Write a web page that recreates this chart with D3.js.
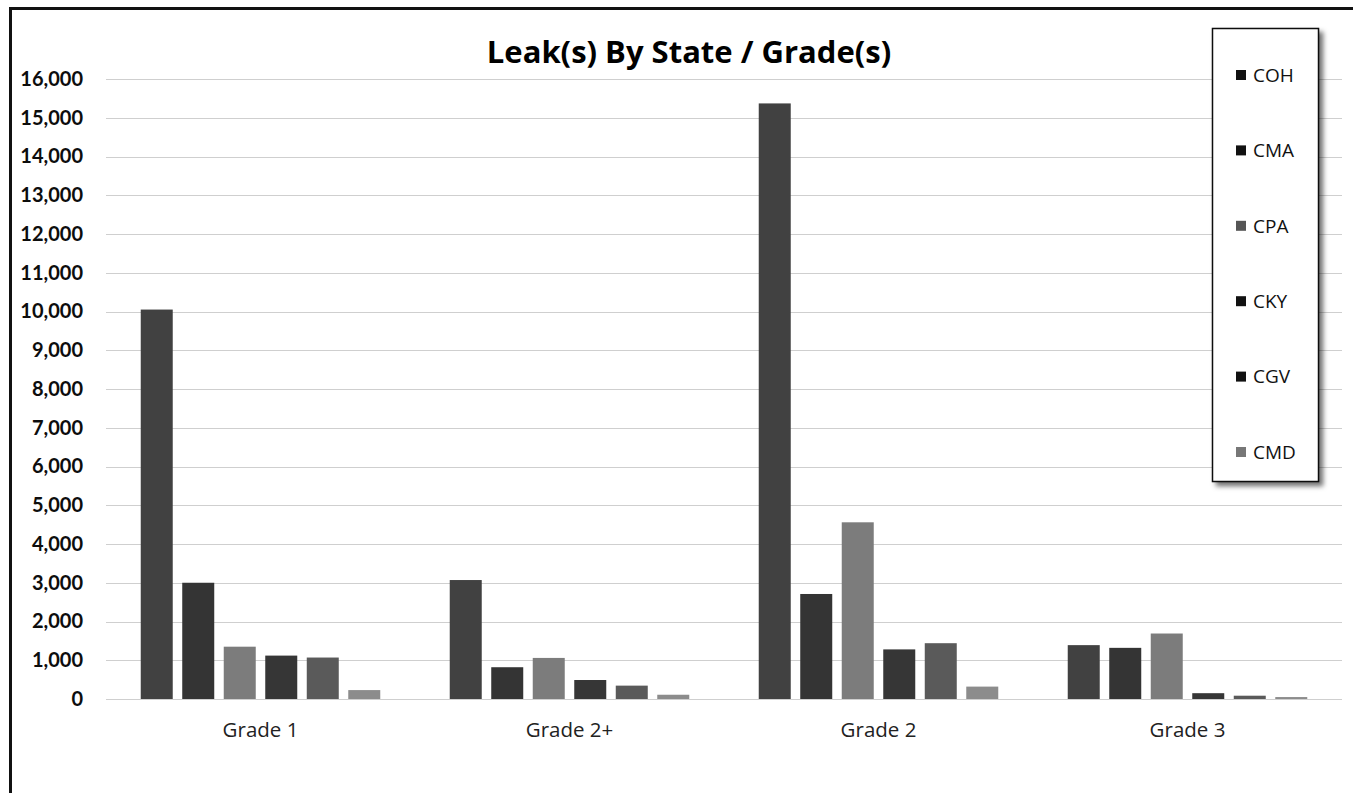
<!DOCTYPE html>
<html>
<head>
<meta charset="utf-8">
<script src="https://cdn.jsdelivr.net/npm/d3@7"></script>
<style>
  html, body { margin: 0; padding: 0; background: #fff; }
  svg { display: block; }
</style>
</head>
<body>
<svg id="chart" width="1353" height="793"></svg>
<script>
// Leak counts per grade, one array per state series
const categories = ["Grade 1", "Grade 2+", "Grade 2", "Grade 3"];
const seriesNames = ["COH", "CMA", "CPA", "CKY", "CGV", "CMD"];
const coh = [10050, 3070, 15370, 1390];
const cma = [3000, 820, 2710, 1320];
const cpa = [1350, 1060, 4560, 1690];
const cky = [1120, 490, 1280, 150];
const cgv = [1070, 345, 1440, 85];
const cmd = [230, 110, 320, 50];
const yTicks = [0, 1000, 2000, 3000, 4000, 5000, 6000, 7000, 8000,
                9000, 10000, 11000, 12000, 13000, 14000, 15000, 16000];
const titleText = "Leak(s) By State / Grade(s)";

const seriesValues = [coh, cma, cpa, cky, cgv, cmd];
const seriesColors = ["#414141", "#343434", "#7c7c7c", "#363636", "#5a5a5a", "#8c8c8c"];
const swatchColors = ["#111", "#111", "#555", "#111", "#111", "#777"];

const LATO = "Lato, sans-serif";
const OPEN = "'Open Sans', sans-serif";

const svg = d3.select("#chart");

// frame: heavy rule along the top and left edges
svg.append("line").attr("x1", 10).attr("x2", 1353).attr("y1", 8.5).attr("y2", 8.5)
  .attr("stroke", "#111").attr("stroke-width", 3);
svg.append("line").attr("x1", 10.5).attr("x2", 10.5).attr("y1", 7).attr("y2", 793)
  .attr("stroke", "#111").attr("stroke-width", 3);

const plot = { left: 106, right: 1342, top: 79, bottom: 699 };

const y = d3.scaleLinear().domain([0, 16000]).range([plot.bottom, plot.top]);
const x0 = d3.scaleBand().domain(categories).range([plot.left, plot.right]);
const x1 = d3.scaleBand().domain(seriesNames).range([0, x0.bandwidth()])
  .paddingInner(0.229).paddingOuter(0.837);

// gridlines
svg.append("g").selectAll("line").data(yTicks).join("line")
  .attr("x1", plot.left).attr("x2", plot.right)
  .attr("y1", d => Math.round(y(d)) + 0.5).attr("y2", d => Math.round(y(d)) + 0.5)
  .attr("stroke", "#cfcfcf").attr("stroke-width", 1.2);

// y axis labels
const yAxis = d3.axisLeft(y).tickValues(yTicks).tickFormat(d3.format(",")).tickSize(0).tickPadding(0);
const yg = svg.append("g").attr("transform", `translate(83,0)`).call(yAxis);
yg.select(".domain").remove();
yg.selectAll("text")
  .style("font-family", LATO).style("font-size", "20px").style("font-weight", 700)
  .attr("fill", "#0d0d0d");

// x axis category labels
const xAxis = d3.axisBottom(x0).tickSize(0).tickPadding(0);
const xg = svg.append("g").attr("transform", `translate(0,${plot.bottom + 23})`).call(xAxis);
xg.select(".domain").remove();
xg.selectAll("text")
  .style("font-family", OPEN).style("font-size", "20.5px")
  .attr("fill", "#222");

// bars
const groups = svg.append("g").selectAll("g").data(categories).join("g")
  .attr("transform", d => `translate(${x0(d)},0)`);
groups.selectAll("rect")
  .data((c, ci) => seriesNames.map((s, si) => ({ s, si, v: seriesValues[si][ci] })))
  .join("rect")
  .attr("x", d => x1(d.s))
  .attr("width", x1.bandwidth())
  .attr("y", d => y(d.v))
  .attr("height", d => y(0) - y(d.v))
  .attr("fill", d => seriesColors[d.si]);

// title
svg.append("text").attr("x", 689).attr("y", 63).attr("text-anchor", "middle")
  .style("font-family", OPEN).style("font-size", "31px").style("font-weight", 700)
  .attr("fill", "#000").text(titleText);

// legend with drop shadow
const defs = svg.append("defs");
const f = defs.append("filter").attr("id", "shadow").attr("x", "-20%").attr("y", "-5%")
  .attr("width", "150%").attr("height", "115%");
f.append("feDropShadow").attr("dx", 4).attr("dy", 4).attr("stdDeviation", 2.5)
  .attr("flood-color", "#000").attr("flood-opacity", 0.55);

const legend = svg.append("g");
legend.append("rect").attr("x", 1212.5).attr("y", 28.5).attr("width", 106).attr("height", 453)
  .attr("fill", "#fff").attr("stroke", "#111").attr("stroke-width", 1.5)
  .attr("filter", "url(#shadow)");
const ly = d3.scalePoint().domain(seriesNames).range([75, 452]);
const items = legend.selectAll("g.item").data(seriesNames).join("g").attr("class", "item")
  .attr("transform", d => `translate(1236,${ly(d)})`);
items.append("rect").attr("x", 0).attr("y", -5).attr("width", 10).attr("height", 10)
  .attr("fill", (d, i) => swatchColors[i]);
items.append("text").attr("x", 17).attr("y", 0).attr("dy", "0.36em")
  .style("font-family", OPEN).style("font-size", "19px")
  .attr("fill", "#111").text(d => d);
</script>
</body>
</html>
